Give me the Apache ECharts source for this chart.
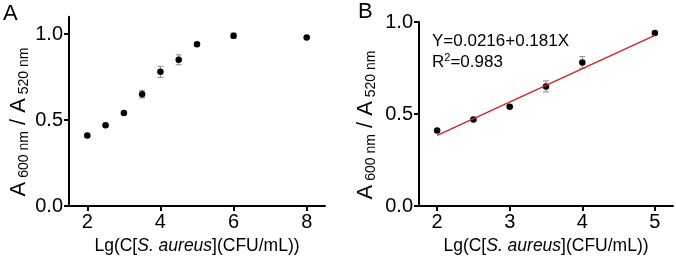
<!DOCTYPE html>
<html>
<head>
<meta charset="utf-8">
<script src="https://cdn.jsdelivr.net/npm/echarts@6/dist/echarts.min.js"></script>
<style>
  html, body { margin: 0; padding: 0; background: #fff; }
  #main { width: 676px; height: 263px; }
</style>
</head>
<body>
<div id="main"></div>
<script>
// panel A: full range
const xA = [2, 2.5, 3, 3.5, 4, 4.5, 5, 6, 8]
const yA = [0.41, 0.47, 0.54, 0.65, 0.78, 0.85, 0.94, 0.99, 0.98]
const errA = [0.006, 0.006, 0.006, 0.022, 0.032, 0.029, 0.01, 0.015, 0.006]

// panel B: linear range
const xB = [2, 2.5, 3, 3.5, 4, 5]
const yB = [0.41, 0.47, 0.54, 0.65, 0.78, 0.94]
const errB = [0.006, 0.006, 0.006, 0.03, 0.032, 0.008]
const fitX = [2, 5]
const fitY = [0.384, 0.927]

const xTicksA = [2, 4, 6, 8]
const xTicksB = [2, 3, 4, 5]
const yTicks = [0, 0.5, 1.0]

const FONT = 'Liberation Sans, Arial, sans-serif'

const pairs = (xs, ys) => xs.map((x, i) => [x, ys[i]])
const errPairs = (xs, ys, es) => xs.map((x, i) => [x, ys[i] - es[i], ys[i] + es[i]])

function errRender(params, api) {
  const x = api.value(0)
  const lo = api.coord([x, api.value(1)])
  const hi = api.coord([x, api.value(2)])
  const w = 3
  const st = { stroke: '#8a8a8a', lineWidth: 1 }
  return {
    type: 'group',
    children: [
      { type: 'line', shape: { x1: lo[0], y1: lo[1], x2: hi[0], y2: hi[1] }, style: st },
      { type: 'line', shape: { x1: lo[0] - w, y1: lo[1], x2: lo[0] + w, y2: lo[1] }, style: st },
      { type: 'line', shape: { x1: hi[0] - w, y1: hi[1], x2: hi[0] + w, y2: hi[1] }, style: st },
    ],
  }
}

function xAxis(idx, min, max, ticks) {
  return {
    type: 'value',
    gridIndex: idx,
    min: min,
    max: max,
    name: '{n|Lg(C[}{i|S. aureus}{n|](CFU/mL))}',
    nameLocation: 'middle',
    nameGap: 31,
    nameTextStyle: {
      rich: {
        n: { fontSize: 17.5, fontFamily: FONT, color: '#000' },
        i: { fontSize: 17.5, fontFamily: FONT, fontStyle: 'italic', color: '#000' },
      },
    },
    splitLine: { show: false },
    axisLine: { onZero: false, lineStyle: { color: '#000', width: 2 } },
    axisTick: { customValues: ticks, length: 5, lineStyle: { color: '#000', width: 2 } },
    axisLabel: { customValues: ticks, margin: 6, fontSize: 20, fontFamily: FONT, color: '#000' },
  }
}

function yAxis(idx, max) {
  return {
    type: 'value',
    gridIndex: idx,
    min: 0,
    max: max,
    splitLine: { show: false },
    axisLine: { onZero: false, lineStyle: { color: '#000', width: 2 } },
    axisTick: { customValues: yTicks, length: 5, lineStyle: { color: '#000', width: 2 } },
    axisLabel: {
      customValues: yTicks,
      margin: 6,
      fontSize: 20,
      fontFamily: FONT,
      color: '#000',
      formatter: (v) => v.toFixed(1),
    },
  }
}

function yTitle(cx, cy) {
  return {
    type: 'text',
    x: cx,
    y: cy,
    rotation: Math.PI / 2,
    style: {
      text: '{a|A}{s| 600 nm}{a| / A}{s| 520 nm}',
      align: 'center',
      verticalAlign: 'middle',
      rich: {
        a: { fontSize: 22, fontFamily: FONT, fill: '#000', lineHeight: 24 },
        s: { fontSize: 14, fontFamily: FONT, fill: '#000', verticalAlign: 'bottom', lineHeight: 24 },
      },
    },
  }
}

const chart = echarts.init(document.getElementById('main'))
chart.setOption({
  animation: false,
  backgroundColor: '#fff',
  grid: [
    { left: 69, top: 16.8, width: 256, height: 189.2 },
    { left: 419, top: 22, width: 254, height: 184 },
  ],
  xAxis: [xAxis(0, 1.5, 8.5, xTicksA), xAxis(1, 1.75, 5.25, xTicksB)],
  yAxis: [yAxis(0, 1.1), yAxis(1, 1.0)],
  graphic: [
    { type: 'text', left: 3, top: 3, style: { text: 'A', fontSize: 22, fontFamily: FONT, fill: '#000' } },
    { type: 'text', left: 358, top: 1, style: { text: 'B', fontSize: 22, fontFamily: FONT, fill: '#000' } },
    yTitle(19, 122),
    yTitle(366, 125),
    {
      type: 'text',
      left: 432,
      top: 31,
      style: {
        text: 'Y=0.0216+0.181X\nR{sup|2}=0.983',
        fontSize: 17,
        fontFamily: FONT,
        fill: '#000',
        lineHeight: 21,
        rich: {
          sup: { fontSize: 11, fontFamily: FONT, fill: '#000', verticalAlign: 'top', lineHeight: 21 },
        },
      },
    },
  ],
  series: [
    {
      type: 'custom',
      xAxisIndex: 0,
      yAxisIndex: 0,
      renderItem: errRender,
      encode: { x: 0, y: [1, 2] },
      data: errPairs(xA, yA, errA),
      z: 1,
    },
    {
      type: 'scatter',
      xAxisIndex: 0,
      yAxisIndex: 0,
      symbolSize: 6.5,
      itemStyle: { color: '#000', opacity: 1 },
      data: pairs(xA, yA),
      z: 3,
    },
    {
      type: 'custom',
      xAxisIndex: 1,
      yAxisIndex: 1,
      renderItem: errRender,
      encode: { x: 0, y: [1, 2] },
      data: errPairs(xB, yB, errB),
      z: 1,
    },
    {
      type: 'scatter',
      xAxisIndex: 1,
      yAxisIndex: 1,
      symbolSize: 6.5,
      itemStyle: { color: '#000', opacity: 1 },
      data: pairs(xB, yB),
      z: 2,
    },
    {
      type: 'line',
      xAxisIndex: 1,
      yAxisIndex: 1,
      showSymbol: false,
      lineStyle: { color: '#d1242b', width: 1.5 },
      data: pairs(fitX, fitY),
      z: 4,
    },
  ],
})
</script>
</body>
</html>
